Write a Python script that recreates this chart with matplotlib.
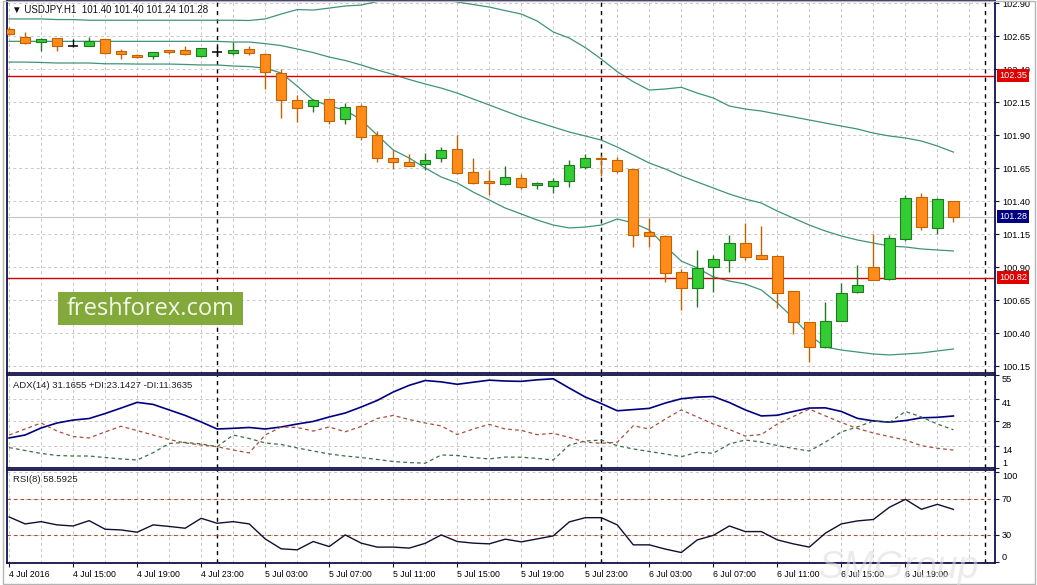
import numpy as np
import matplotlib
matplotlib.use('Agg')
from matplotlib import pyplot as plt
from matplotlib.patches import Rectangle

plt.rcParams['font.family'] = ['Liberation Sans', 'DejaVu Sans']

# --- data (USDJPY H1, 4 Jul 11:00 .. 6 Jul 22:00) ---
opens = [102.70, 102.645, 102.603, 102.633, 102.577, 102.577, 102.625, 102.537, 102.506, 102.501,
         102.544, 102.544, 102.501, 102.531, 102.519, 102.552, 102.514, 102.368, 102.165, 102.120,
         102.171, 102.019, 102.120, 101.900, 101.724, 101.694, 101.678, 101.724, 101.794, 101.618,
         101.552, 101.527, 101.572, 101.519, 101.516, 101.554, 101.660, 101.728, 101.711, 101.640,
         101.163, 101.135, 100.865, 100.739, 100.898, 100.953, 101.080, 100.989, 100.984, 100.718,
         100.481, 100.297, 100.494, 100.709, 100.898, 100.807, 101.110, 101.428, 101.196, 101.40]
highs = [102.72, 102.678, 102.637, 102.637, 102.628, 102.645, 102.630, 102.552, 102.514, 102.533,
         102.546, 102.574, 102.562, 102.569, 102.603, 102.574, 102.520, 102.398, 102.203, 102.170,
         102.175, 102.145, 102.135, 101.933, 101.787, 101.754, 101.762, 101.812, 101.900, 101.728,
         101.635, 101.665, 101.605, 101.546, 101.572, 101.711, 101.756, 101.749, 101.731, 101.645,
         101.274, 101.143, 100.883, 101.029, 100.991, 101.143, 101.231, 101.211, 100.990, 100.720,
         100.485, 100.633, 100.781, 100.915, 101.150, 101.143, 101.446, 101.459, 101.420, 101.40]
lows = [102.66, 102.590, 102.539, 102.539, 102.565, 102.575, 102.515, 102.474, 102.487, 102.476,
        102.512, 102.506, 102.489, 102.501, 102.506, 102.506, 102.249, 102.031, 101.996, 102.077,
        101.981, 101.981, 101.862, 101.698, 101.643, 101.665, 101.635, 101.698, 101.607, 101.527,
        101.446, 101.520, 101.489, 101.489, 101.459, 101.509, 101.643, 101.592, 101.610, 101.049,
        101.054, 100.789, 100.575, 100.600, 100.713, 100.860, 100.953, 100.958, 100.587, 100.390,
        100.183, 100.290, 100.490, 100.700, 100.800, 100.800, 101.100, 101.180, 101.150, 101.24]
closes = [102.665, 102.595, 102.628, 102.577, 102.577, 102.612, 102.519, 102.512, 102.489, 102.531,
          102.531, 102.512, 102.562, 102.531, 102.544, 102.519, 102.380, 102.165, 102.107, 102.165,
          102.009, 102.110, 101.887, 101.728, 101.698, 101.668, 101.711, 101.787, 101.610, 101.539,
          101.539, 101.584, 101.509, 101.534, 101.552, 101.673, 101.724, 101.718, 101.630, 101.143,
          101.135, 100.857, 100.744, 100.890, 100.959, 101.084, 100.978, 100.963, 100.706, 100.486,
          100.292, 100.491, 100.701, 100.762, 100.802, 101.118, 101.421, 101.201, 101.413, 101.28]

bb_upper = [102.78, 102.78, 102.78, 102.775, 102.775, 102.77, 102.77, 102.77, 102.77, 102.77,
            102.77, 102.77, 102.77, 102.77, 102.77, 102.768, 102.78, 102.817, 102.851, 102.847,
            102.862, 102.878, 102.885, 102.912, 102.938, 102.946, 102.946, 102.931, 102.908, 102.889,
            102.870, 102.843, 102.817, 102.764, 102.681, 102.635, 102.563, 102.476, 102.380, 102.304,
            102.241, 102.249, 102.262, 102.218, 102.181, 102.120, 102.097, 102.082, 102.059, 102.037,
            102.014, 101.991, 101.968, 101.946, 101.915, 101.893, 101.878, 101.855, 101.817, 101.771]
bb_middle = [102.61, 102.61, 102.61, 102.61, 102.61, 102.61, 102.61, 102.61, 102.61, 102.61,
             102.61, 102.61, 102.61, 102.61, 102.605, 102.605, 102.593, 102.578, 102.552, 102.525,
             102.491, 102.465, 102.431, 102.393, 102.359, 102.321, 102.287, 102.256, 102.218, 102.173,
             102.128, 102.082, 102.037, 101.999, 101.961, 101.923, 101.893, 101.862, 101.809, 101.749,
             101.688, 101.643, 101.590, 101.544, 101.499, 101.453, 101.415, 101.385, 101.324, 101.271,
             101.218, 101.173, 101.135, 101.105, 101.082, 101.059, 101.052, 101.037, 101.029, 101.022]
bb_lower = [102.453, 102.453, 102.45, 102.446, 102.446, 102.446, 102.44, 102.44, 102.438, 102.438,
            102.438, 102.435, 102.431, 102.431, 102.423, 102.419, 102.408, 102.370, 102.271, 102.165,
            102.120, 102.090, 102.014, 101.900, 101.787, 101.726, 101.650, 101.582, 101.537, 101.468,
            101.408, 101.347, 101.302, 101.256, 101.218, 101.196, 101.203, 101.218, 101.264, 101.234,
            101.180, 101.059, 100.945, 100.893, 100.825, 100.794, 100.771, 100.726, 100.628, 100.514,
            100.385, 100.294, 100.271, 100.256, 100.241, 100.234, 100.241, 100.249, 100.264, 100.279]

adx = [18.4, 20.1, 24.2, 27.1, 28.8, 29.7, 32.6, 35.8, 39.1, 37.9,
       34.7, 31.5, 27.7, 23.6, 24.0, 24.5, 23.6, 24.8, 26.5, 28.0,
       30.6, 32.9, 36.4, 40.2, 45.1, 49.0, 51.8, 51.0, 49.6, 50.8,
       52.0, 51.5, 51.3, 52.2, 52.8, 47.4, 42.2, 38.4, 34.2, 34.9,
       35.6, 38.7, 41.2, 42.1, 42.5, 39.0, 34.7, 31.2, 31.6, 33.8,
       35.8, 35.9, 33.8, 29.8, 28.3, 27.6, 28.5, 30.1, 30.4, 31.17]
plus_di = [12.8, 11.1, 9.4, 8.2, 7.9, 7.9, 7.0, 6.2, 5.6, 9.8,
           15.2, 15.8, 14.9, 13.3, 20.1, 18.1, 15.5, 14.6, 12.6, 10.8,
           9.1, 7.9, 7.0, 5.9, 4.7, 4.1, 3.7, 8.5, 8.2, 7.0,
           6.2, 7.3, 7.2, 6.5, 5.6, 14.3, 16.6, 17.2, 13.9, 12.0,
           10.5, 9.1, 7.5, 10.1, 9.5, 14.9, 17.2, 16.0, 14.0, 12.3,
           10.8, 16.0, 21.9, 24.8, 28.3, 27.4, 33.8, 30.6, 26.5, 23.14]
minus_di = [20.1, 23.6, 27.1, 22.4, 19.2, 18.4, 21.9, 25.2, 22.7, 20.1,
            17.5, 15.5, 14.3, 13.3, 11.4, 9.7, 20.1, 24.8, 24.5, 22.4,
            24.8, 22.0, 25.1, 29.7, 31.5, 29.1, 27.1, 25.4, 20.4, 23.6,
            26.3, 23.6, 22.8, 20.3, 21.1, 18.7, 16.0, 15.3, 15.9, 25.5,
            23.6, 29.4, 34.7, 30.6, 26.5, 23.3, 19.5, 20.4, 26.5, 30.9,
            35.2, 31.2, 27.4, 23.9, 21.3, 19.2, 17.2, 13.9, 12.4, 11.36]
rsi = [50.2, 42.5, 45.0, 41.4, 40.2, 46.1, 36.6, 35.8, 33.3, 41.4,
       39.7, 37.7, 48.7, 43.2, 45.0, 42.5, 25.9, 14.9, 13.8, 23.0,
       17.4, 30.3, 21.2, 16.8, 16.8, 15.7, 21.0, 30.3, 23.0, 21.2,
       20.4, 25.6, 22.6, 25.9, 29.2, 44.7, 49.4, 49.4, 41.4, 19.3,
       19.3, 14.6, 10.8, 24.8, 29.8, 40.2, 34.0, 34.0, 24.8, 20.4,
       16.8, 32.2, 42.5, 45.8, 47.4, 60.9, 69.7, 58.7, 64.2, 58.59]

levels = [102.35, 100.82]
day_breaks = [13, 37, 61]
time_ticks = [0, 4, 8, 12, 16, 20, 24, 28, 32, 36, 40, 44, 48, 52, 56]
time_labels = ['4 Jul 2016', '4 Jul 15:00', '4 Jul 19:00', '4 Jul 23:00', '5 Jul 03:00',
               '5 Jul 07:00', '5 Jul 11:00', '5 Jul 15:00', '5 Jul 19:00', '5 Jul 23:00',
               '6 Jul 03:00', '6 Jul 07:00', '6 Jul 11:00', '6 Jul 15:00', '6 Jul 19:00']
price_ticks = [100.15, 100.40, 100.65, 100.90, 101.15, 101.40, 101.65, 101.90, 102.15, 102.40, 102.65, 102.90]
adx_ticks = [1, 14, 28, 41, 55]
rsi_ticks = [0, 30, 70, 100]

x = np.arange(len(opens))
o = np.array(opens); h = np.array(highs); l = np.array(lows); c = np.array(closes)

fig = plt.figure(figsize=(10.37, 5.85), dpi=100)
frame_col = '#12124a'
grid_kw = dict(color='#c8c8c8', ls=(0, (3, 3)), lw=0.7)

ax = fig.add_axes([0.00723, 0.36239, 0.95227, 0.63505])
ax_adx = fig.add_axes([0.00723, 0.2, 0.95227, 0.15897], sharex=ax)
ax_rsi = fig.add_axes([0.00723, 0.03761, 0.95227, 0.15897], sharex=ax)

for a in (ax, ax_adx, ax_rsi):
    for s in a.spines.values():
        s.set_color(frame_col)
        s.set_linewidth(1.3)
    a.yaxis.tick_right()
    a.tick_params(axis='y', length=3, width=0.8, color=frame_col, labelsize=6.6, pad=2)
    a.set_xticks(np.arange(0, 62, 2), minor=True)
    a.grid(True, which='both', axis='x', **grid_kw)
    a.grid(True, which='major', axis='y', **grid_kw)
    a.set_axisbelow(True)
    for d in day_breaks:
        a.axvline(d, color='black', ls=(0, (3, 3)), lw=1, zorder=2)
ax.set_xlim(-0.1, 61.6)

# --- main price panel ---
ax.plot(x, bb_upper, color='#3f9478', lw=0.9, zorder=2)
ax.plot(x, bb_middle, color='#3f9478', lw=0.9, zorder=2)
ax.plot(x, bb_lower, color='#3f9478', lw=0.9, zorder=2)
for lv in levels:
    ax.axhline(lv, color='#d40000', lw=1, zorder=2)
ax.axhline(closes[-1], color='#c4c4c4', lw=0.8, zorder=1)

up = c > o
down = c < o
flat = c == o
wick_col = np.where(up, '#1f7a1f', np.where(down, '#c46200', 'black'))
ax.vlines(x, l, h, colors=list(wick_col), lw=1, zorder=3)
body = ~flat
ax.bar(x[body], np.maximum(np.abs(c - o)[body], 0.005), bottom=np.minimum(o, c)[body], width=0.65,
       color=np.where(up, '#33cc33', '#ff8c1a')[body], edgecolor=wick_col[body], lw=0.8, zorder=4)
ax.hlines(o[flat], x[flat] - 0.33, x[flat] + 0.33, colors='black', lw=1.1, zorder=4)

ax.set_ylim(100.097, 102.912)
ax.set_yticks(price_ticks)
ax.set_yticklabels(['%.2f' % t for t in price_ticks])
ax.tick_params(axis='x', which='both', bottom=False, labelbottom=False)

ytr = ax.get_yaxis_transform()
for lv, col in [(levels[0], '#e00000'), (levels[1], '#e00000'), (closes[-1], '#000080')]:
    ax.text(1.004, lv, '%.2f' % lv, transform=ytr, ha='left', va='center', fontsize=6.6, color='white',
            bbox=dict(boxstyle='square,pad=0.22', fc=col, ec='none'), zorder=6, clip_on=False)

ax.text(0.0045, 0.978, '\u25bc ' + 'USDJPY.H1  %.2f %.2f %.2f %.2f' % (opens[-1], highs[-1], lows[-1], closes[-1]),
        transform=ax.transAxes, ha='left', va='center', fontsize=7, color='#101010')

# --- ADX panel ---
ax_adx.plot(x, adx, color='#000080', lw=1.2, zorder=3)
ax_adx.plot(x, plus_di, color='#3c6e46', lw=0.9, ls=(0, (3, 2.5)), zorder=3)
ax_adx.plot(x, minus_di, color='#a8503a', lw=0.9, ls=(0, (3, 2.5)), zorder=3)
ax_adx.set_ylim(0.93, 55)
ax_adx.set_yticks(adx_ticks)
ax_adx.set_yticklabels([str(t) for t in adx_ticks])
for lab, t in zip(ax_adx.get_yticklabels(), adx_ticks):
    lab.set_va('bottom' if t == 1 else 'top')
ax_adx.tick_params(axis='x', which='both', bottom=False, labelbottom=False)
ax_adx.text(0.0055, 0.89, 'ADX(14) %.4f +DI:%.4f -DI:%.4f' % (31.1655, 23.1427, 11.3635),
            transform=ax_adx.transAxes, ha='left', va='center', fontsize=6.8, color='#202020')

# --- RSI panel ---
ax_rsi.plot(x, rsi, color='#101030', lw=1, zorder=3)
for lv in (30, 70):
    ax_rsi.axhline(lv, color='#a0522d', lw=0.8, ls=(0, (3, 3)), zorder=2)
ax_rsi.set_ylim(-0.8, 102.2)
ax_rsi.set_yticks(rsi_ticks)
ax_rsi.set_yticklabels([str(t) for t in rsi_ticks])
for lab, t in zip(ax_rsi.get_yticklabels(), rsi_ticks):
    lab.set_va({0: 'bottom', 100: 'top'}.get(t, 'center'))
ax_rsi.set_xticks(time_ticks)
ax_rsi.set_xticklabels(time_labels, ha='left')
ax_rsi.tick_params(axis='x', which='major', length=3, color=frame_col, labelsize=6.3, pad=2)
ax_rsi.tick_params(axis='x', which='minor', length=0)
ax_rsi.text(0.0055, 0.9, 'RSI(8) %.4f' % 58.5925, transform=ax_rsi.transAxes,
            ha='left', va='center', fontsize=6.8, color='#202020')

# --- overlays ---
fig.patches.append(Rectangle((0.0562, 0.4444), 0.1784, 0.0559, transform=fig.transFigure,
                             fc='#84a93b', ec='none', zorder=10))
fig.text(0.1451, 0.4722, 'freshforex.com', ha='center', va='center', fontsize=17,
         family='Open Sans', color='#f4f8ec', zorder=11)
fig.text(0.79, 0.012, 'SMGroup', ha='left', va='baseline', fontsize=27, style='italic',
         color='#dcdcdc', alpha=0.55, zorder=1)
fig.patches.append(Rectangle((0.0025, 0.002), 0.996, 0.996, transform=fig.transFigure,
                             fill=False, ec='#b4b4b4', lw=1, zorder=0))

fig.savefig('out.png', dpi=100)
